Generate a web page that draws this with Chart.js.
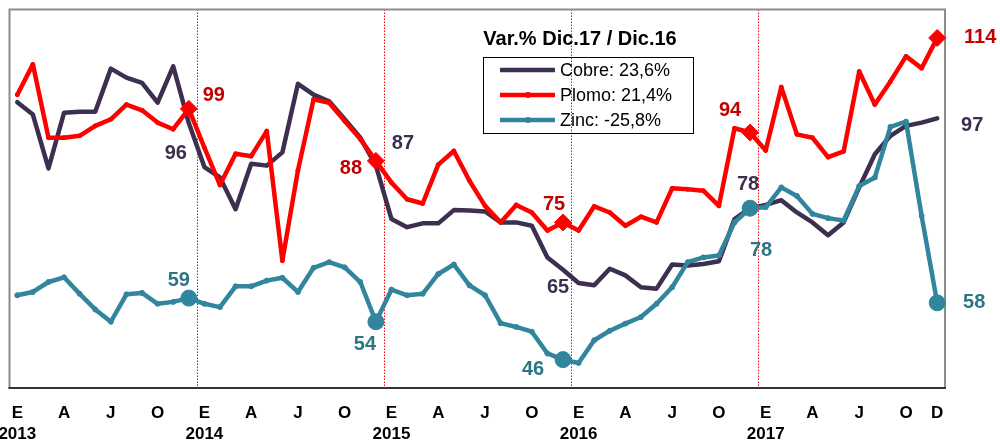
<!DOCTYPE html>
<html>
<head>
<meta charset="utf-8">
<script src="https://cdn.jsdelivr.net/npm/chart.js@4.4.0/dist/chart.umd.min.js"></script>
<style>
    html, body { margin: 0; padding: 0; background: #fff; }
</style>
</head>
<body>
<canvas id="chart" width="1000" height="444"></canvas>
<script>
// ===== DATA =====
const months = ['E', 'F', 'M', 'A', 'M', 'J', 'J', 'A', 'S', 'O', 'N', 'D'];
const years = [2013, 2014, 2015, 2016, 2017];

const cobre = [
    100.4, 97.8, 86.4, 98.2, 98.4, 98.4, 107.5, 105.6, 104.5, 100.3, 108, 96,
    86.7, 84.5, 77.8, 87.4, 87, 89.8, 104.3, 102, 100.6, 96.8, 92.9, 87,
    75.7, 74, 74.8, 74.8, 77.6, 77.5, 77.3, 75, 75, 74.3, 67.6, 65,
    62.2, 61.7, 65.2, 63.8, 61.3, 61, 66.1, 65.9, 66.2, 66.8, 75.7, 78,
    78.7, 79.7, 77.1, 75, 72.3, 75, 82.4, 89.4, 93.3, 95.4, 96.1, 97,
];
const plomo = [
    102, 108.4, 92.9, 92.9, 93.3, 95.4, 96.8, 99.9, 98.7, 96.1, 94.7, 99,
    90.8, 82.9, 89.5, 89, 94.3, 66.9, 86, 101, 100.3, 96.4, 92.6, 88,
    83.4, 79.9, 79, 87.2, 90.1, 83.8, 78.5, 75, 78.7, 77.1, 73.3, 75,
    73.3, 78.4, 77.1, 74.3, 76.2, 75, 82.2, 82, 81.7, 78.5, 94.9, 94,
    90.2, 103.6, 93.6, 92.9, 88.8, 90, 106.9, 99.9, 104.8, 110.1, 107.6, 114,
];
const zinc = [
    59.6, 60.3, 62.4, 63.4, 59.9, 56.6, 54, 59.8, 60.1, 57.8, 58.2, 59,
    57.8, 57.1, 61.5, 61.5, 62.7, 63.3, 60.3, 65.4, 66.6, 65.5, 62.4, 54,
    60.8, 59.6, 59.9, 64.1, 66.1, 61.7, 59.6, 53.7, 52.9, 51.9, 47.3, 46,
    45.3, 50.1, 52.1, 53.6, 55, 57.8, 61.3, 66.6, 67.6, 68, 75, 78,
    78.2, 82.4, 80.6, 76.8, 75.9, 75.4, 82.7, 84.5, 95.2, 96.3, 76.4, 58,
];

const legendTitle = 'Var.% Dic.17 / Dic.16';
const legendNames = ['Cobre: 23,6%', 'Plomo: 21,4%', 'Zinc: -25,8%'];

// months that get a marker + value label (every December)
const markIdx = [11, 23, 35, 47, 59];

const labels = years.flatMap((y) => months.map((m) => `${m} ${y}`));

// ===== STYLE =====
const FONT = 'Arial, "Liberation Sans", sans-serif';
const COL_CU = '#3d2f4f';
const COL_PB = '#ff0000';
const COL_ZN = '#31859c';

const isMark = (c) => markIdx.includes(c.dataIndex);

// text offsets (px) from the marked point, per series
const labelStyle = [
    { color: COL_CU, off: [[-13, 30], [27, -22], [-5, 18], [-2, -24], [35, 7]] },
    { color: '#c00000', off: [[25, -13], [-25, 8], [-9, -18], [-20, -22], [43, 0]] },
    { color: '#2c7587', off: [[-10, -18], [-11, 23], [-30, 10], [11, 42], [37, 0]] },
];

const framePlugin = {
    id: 'frame',
    beforeDatasetsDraw(chart) {
        const { ctx, chartArea: a, scales: { x } } = chart;
        ctx.save();
        // dotted red year separators
        ctx.strokeStyle = '#ff0000';
        ctx.lineWidth = 1;
        ctx.setLineDash([1.5, 1.5]);
        for (let i = 12; i < labels.length; i += 12) {
            const px = Math.round((x.getPixelForValue(i - 1) + x.getPixelForValue(i)) / 2) + 0.5;
            ctx.beginPath();
            ctx.moveTo(px, a.top);
            ctx.lineTo(px, a.bottom);
            ctx.stroke();
        }
        ctx.setLineDash([]);
        ctx.strokeStyle = '#8c8c8c';
        ctx.lineWidth = 2;
        ctx.strokeRect(a.left, a.top, a.right - a.left, a.bottom - a.top);
        ctx.strokeStyle = '#333';
        ctx.beginPath();
        ctx.moveTo(a.left - 1, a.bottom);
        ctx.lineTo(a.right + 1, a.bottom);
        ctx.stroke();
        ctx.restore();
    },
};

const labelPlugin = {
    id: 'valueLabels',
    afterDatasetsDraw(chart) {
        const ctx = chart.ctx;
        ctx.save();
        ctx.font = `bold 20px ${FONT}`;
        ctx.textAlign = 'center';
        ctx.textBaseline = 'middle';
        chart.data.datasets.forEach((ds, di) => {
            const meta = chart.getDatasetMeta(di);
            const st = labelStyle[di];
            ctx.fillStyle = st.color;
            markIdx.forEach((i, k) => {
                const pt = meta.data[i];
                ctx.fillText(Math.round(ds.data[i]), pt.x + st.off[k][0], pt.y + st.off[k][1]);
            });
        });
        ctx.restore();
    },
};

const legendPlugin = {
    id: 'boxLegend',
    afterDraw(chart) {
        const ctx = chart.ctx;
        ctx.save();
        ctx.fillStyle = '#000';
        ctx.font = `bold 20px ${FONT}`;
        ctx.textAlign = 'center';
        ctx.textBaseline = 'middle';
        ctx.fillText(legendTitle, 580, 39);

        ctx.strokeStyle = '#000';
        ctx.lineWidth = 1;
        ctx.strokeRect(483.5, 57.5, 210, 76);

        ctx.font = `18px ${FONT}`;
        ctx.textAlign = 'left';
        chart.data.datasets.forEach((ds, i) => {
            const y = 70 + i * 25;
            ctx.strokeStyle = ds.borderColor;
            ctx.lineWidth = 4.5;
            ctx.lineCap = 'butt';
            ctx.beginPath();
            ctx.moveTo(500, y);
            ctx.lineTo(555, y);
            ctx.stroke();
            if (i > 0) {
                ctx.fillStyle = ds.borderColor;
                ctx.beginPath();
                ctx.arc(528, y, 3, 0, Math.PI * 2);
                ctx.fill();
            }
            ctx.fillStyle = '#000';
            ctx.fillText(legendNames[i], 560, y + 1);
        });
        ctx.restore();
    },
};

// ===== CHART =====
new Chart(document.getElementById('chart'), {
    type: 'line',
    data: {
        labels,
        datasets: [
            {
                label: 'Cobre',
                data: cobre,
                borderColor: COL_CU,
                backgroundColor: COL_CU,
                borderWidth: 4.5,
                pointRadius: 0,
                order: 2,
            },
            {
                label: 'Plomo',
                data: plomo,
                borderColor: COL_PB,
                backgroundColor: COL_PB,
                borderWidth: 4.5,
                pointStyle: (c) => (isMark(c) ? 'rectRot' : 'circle'),
                pointRadius: (c) => (isMark(c) ? 8.5 : 2),
                pointBorderWidth: 1,
                order: 0,
            },
            {
                label: 'Zinc',
                data: zinc,
                borderColor: COL_ZN,
                backgroundColor: COL_ZN,
                borderWidth: 4.5,
                pointRadius: (c) => (isMark(c) ? 8 : 2.5),
                pointBorderWidth: 1,
                order: 1,
            },
        ],
    },
    options: {
        responsive: false,
        animation: false,
        layout: { padding: { left: 9, right: 55, top: 8, bottom: 0 } },
        plugins: {
            legend: { display: false },
            tooltip: { enabled: false },
        },
        elements: { line: { tension: 0, borderJoinStyle: 'round', borderCapStyle: 'round' } },
        scales: {
            x: {
                offset: true,
                grid: { display: false, drawTicks: false },
                border: { display: false },
                ticks: {
                    autoSkip: false,
                    maxRotation: 0,
                    padding: 14,
                    color: '#000',
                    font: { family: FONT, size: 17, weight: 'bold', lineHeight: 1.28 },
                    callback: (v, i) => {
                        const m = i % 12;
                        if (m === 0) return [months[m], String(years[i / 12])];
                        if (m % 3 === 0 || i === labels.length - 1) return months[m];
                        return '';
                    },
                },
                afterFit: (s) => {
                    s.height = 56;
                    s.paddingLeft = 0;
                    s.paddingRight = 0;
                },
            },
            y: {
                display: false,
                min: 40,
                max: 120,
            },
        },
    },
    plugins: [framePlugin, labelPlugin, legendPlugin],
});
</script>
</body>
</html>
